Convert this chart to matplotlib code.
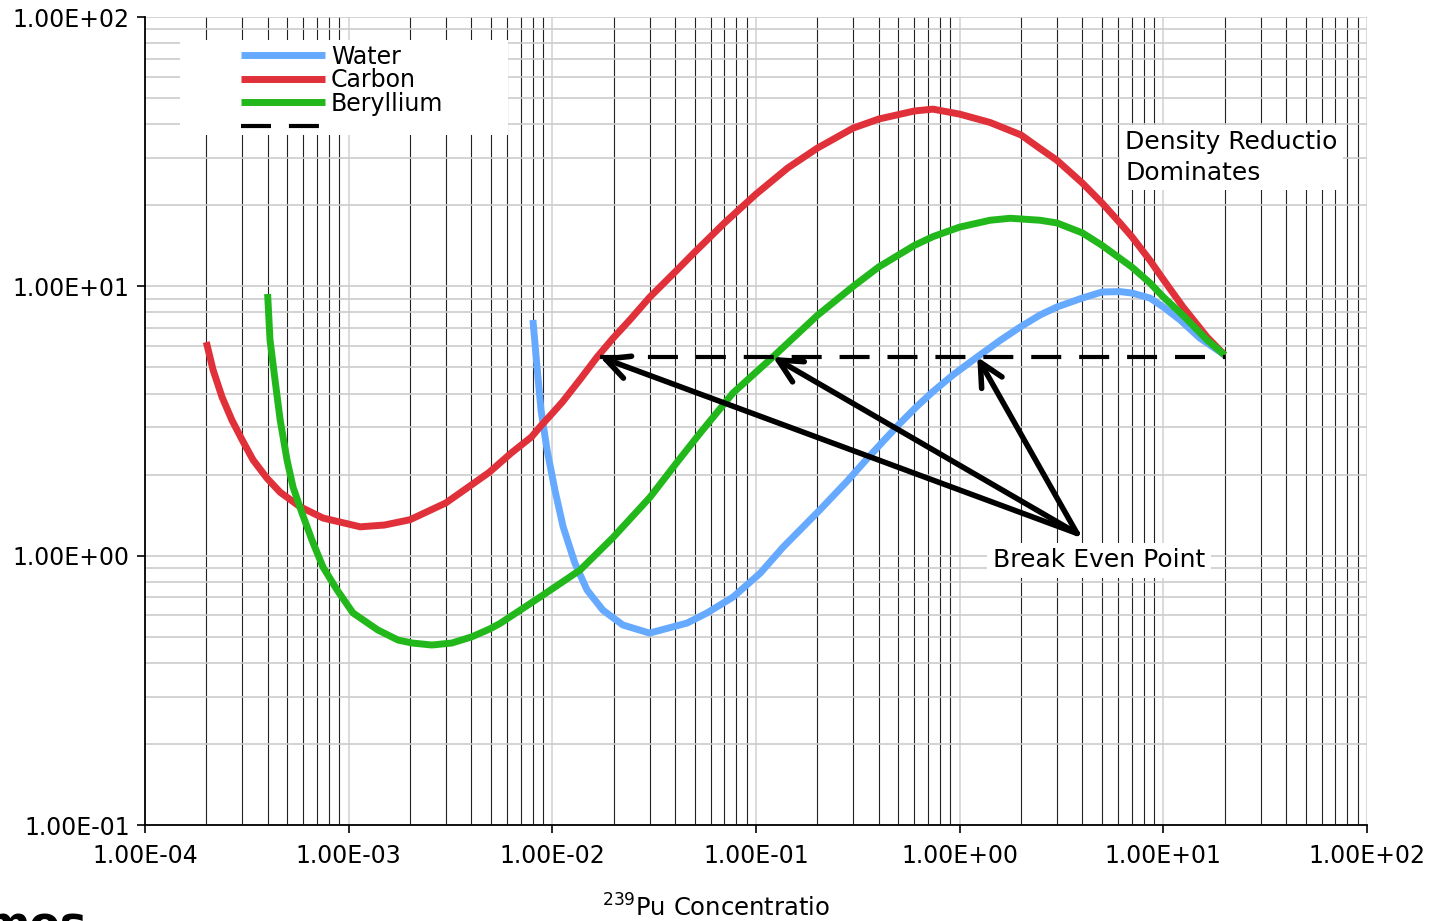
import numpy as np
import matplotlib
matplotlib.use("Agg")
import matplotlib.pyplot as plt
from matplotlib.ticker import FuncFormatter, LogLocator, NullFormatter
from matplotlib.patches import Rectangle

# ==============================
# Datos
# ==============================

# Water
agua_x = [8.03e-3, 8.41e-3, 8.8e-3, 9.42e-3, 1.03e-2, 1.13e-2, 1.29e-2, 1.48e-2, 1.77e-2,
          2.22e-2, 3.0e-2, 4.58e-2, 5.75e-2, 7.71e-2, 0.105, 0.136, 0.206, 0.28, 0.351,
          0.421, 0.509, 0.618, 0.74, 0.927, 1.22, 1.58, 1.98, 2.48, 3.0, 4.0, 5.0,
          6.12, 7.0, 8.59, 10.0, 12.1, 15.1, 20.0]
agua_y = [7.50, 5.02, 3.47, 2.47, 1.75, 1.28, 0.939, 0.746, 0.628,
          0.553, 0.516, 0.562, 0.613, 0.702, 0.862, 1.077, 1.48, 1.89, 2.29,
          2.66, 3.10, 3.59, 4.07, 4.69, 5.47, 6.3, 7.06, 7.83, 8.38, 9.05, 9.53,
          9.56, 9.45, 9.05, 8.38, 7.5, 6.43, 5.56]

# Carbon
carbono_x = [2.0e-4, 2.16e-4, 2.39e-4, 2.67e-4, 3.0e-4, 3.39e-4, 3.97e-4, 4.61e-4, 5.77e-4,
             7.48e-4, 1.14e-3, 1.5e-3, 2.0e-3, 3.0e-3, 4.0e-3, 4.9e-3, 6.3e-3, 7.9e-3,
             8.7e-3, 1.0e-2, 1.12e-2, 1.38e-2, 1.66e-2, 1.99e-2, 2.4e-2, 3.0e-2, 4.0e-2,
             5.0e-2, 7.0e-2, 0.1, 0.143, 0.2, 0.3, 0.4, 0.6, 0.74, 1.0, 1.41, 2.0,
             2.48, 3.0, 4.0, 5.0, 6.12, 7.0, 8.59, 10.0, 12.5, 16.4, 20.0]
carbono_y = [6.21, 4.89, 3.88, 3.19, 2.69, 2.27, 1.94, 1.72, 1.52,
             1.38, 1.28, 1.30, 1.36, 1.57, 1.83, 2.04, 2.41, 2.76,
             3.01, 3.38, 3.72, 4.55, 5.47, 6.43, 7.5, 9.1, 11.3,
             13.4, 17.2, 22.0, 27.5, 32.6, 38.7, 41.8, 44.8, 45.5, 43.6, 40.6, 36.5,
             32.5, 29.4, 24.2, 20.4, 17.2, 15.3, 12.5, 10.6, 8.38, 6.48, 5.56]

# Beryllium
berilio_x = [4.0e-4, 4.11e-4, 4.35e-4, 4.61e-4, 4.98e-4, 5.33e-4, 5.9e-4, 6.61e-4, 7.48e-4,
             8.77e-4, 1.05e-3, 1.39e-3, 1.75e-3, 2.05e-3, 2.56e-3, 3.21e-3, 4.03e-3,
             4.94e-3, 5.53e-3, 8.7e-3, 1.37e-2, 1.99e-2, 3.02e-2, 4.09e-2, 5.31e-2,
             7.71e-2, 0.121, 0.2, 0.3, 0.4, 0.6, 0.74, 1.0, 1.41, 1.77, 2.48, 3.0,
             4.0, 5.0, 7.0, 8.59, 10.0, 12.5, 16.4, 20.0]
berilio_y = [9.37, 6.32, 4.49, 3.19, 2.27, 1.80, 1.44, 1.14, 0.908,
             0.746, 0.613, 0.53, 0.486, 0.474, 0.466, 0.474, 0.50,
             0.535, 0.56, 0.702, 0.885, 1.17, 1.65, 2.22, 2.85,
             4.02, 5.47, 7.8, 10.0, 11.8, 14.2, 15.3, 16.6, 17.6, 17.9, 17.6, 17.2,
             15.8, 14.2, 11.8, 10.3, 9.13, 7.8, 6.32, 5.56]

# Linea de equilibrio (sin nombre en la leyenda)
equilibrio_x = [1.71e-2, 20.0]
equilibrio_y = [5.47, 5.47]

# Flechas "Break Even Point"
flecha_origen = (3.77, 1.21)
flecha_destinos_x = [1.71e-2, 0.121, 1.22]
flecha_destinos_y = [5.47, 5.47, 5.47]

# ==============================
# Grafica
# ==============================

plt.rcParams["font.family"] = ["DejaVu Sans"]

fig = plt.figure(figsize=(14.37, 9.21), dpi=100)
ax = fig.add_axes([0.1009, 0.1042, 0.8504, 0.8773])

ax.set_xscale("log")
ax.set_yscale("log")
ax.set_xlim(1e-4, 1e2)
ax.set_ylim(1e-1, 1e2)
ax.set_axisbelow(True)

estilo = dict(lw=5, zorder=3, solid_joinstyle="round", solid_capstyle="butt")
ax.plot(agua_x, agua_y, color="#66aaff", label="Water", **estilo)
ax.plot(carbono_x, carbono_y, color="#e0303a", label="Carbon", **estilo)
ax.plot(berilio_x, berilio_y, color="#22b81c", label="Beryllium", **estilo)
ax.plot(equilibrio_x, equilibrio_y, color="black", lw=3, dashes=(7.2, 4.3),
        label=" ", zorder=3)

# Rejilla
ax.xaxis.set_major_locator(LogLocator(base=10, numticks=10))
ax.xaxis.set_minor_locator(LogLocator(base=10, subs=np.arange(2, 10), numticks=20))
ax.yaxis.set_major_locator(LogLocator(base=10, numticks=10))
ax.yaxis.set_minor_locator(LogLocator(base=10, subs=np.arange(2, 10), numticks=20))
ax.xaxis.set_minor_formatter(NullFormatter())
ax.yaxis.set_minor_formatter(NullFormatter())

ax.grid(True, which="major", axis="x", color="#d4d4d4", lw=1.2)
ax.grid(True, which="minor", axis="x", color="#222222", lw=0.8)
ax.grid(True, which="both", axis="y", color="#cccccc", lw=1.2)

fmt = FuncFormatter(lambda v, p: f"{v:.2E}")
ax.xaxis.set_major_formatter(fmt)
ax.yaxis.set_major_formatter(fmt)

ax.tick_params(which="major", direction="out", length=6, width=1.2, labelsize=17,
               colors="black")
ax.tick_params(axis="x", which="major", pad=8)
ax.tick_params(axis="y", which="major", pad=5)
ax.tick_params(which="minor", length=0)

ax.spines["top"].set_visible(False)
ax.spines["right"].set_visible(False)
ax.spines["left"].set_linewidth(1.3)
ax.spines["bottom"].set_linewidth(1.3)

# Fondo blanco de la leyenda
ax.add_patch(Rectangle((0.0286, 0.854), 0.2685, 0.1175, transform=ax.transAxes,
                       facecolor="white", edgecolor="none", zorder=1))
leg = ax.legend(loc="upper left", bbox_to_anchor=(0.0785, 0.9657), frameon=False,
                fontsize=17, handlelength=3.56, handletextpad=0.25, labelspacing=-0.025,
                borderpad=0, borderaxespad=0)

# Flechas
for dx, dy in zip(flecha_destinos_x, flecha_destinos_y):
    ax.annotate("", xy=(dx, dy), xytext=flecha_origen,
                arrowprops=dict(arrowstyle="->, head_length=0.6, head_width=0.3",
                                mutation_scale=28, lw=4, color="black",
                                shrinkA=0, shrinkB=0),
                zorder=4)

ax.text(0.7807, 0.328, "Break Even Point", transform=ax.transAxes, fontsize=18,
        ha="center", va="center", zorder=4,
        bbox=dict(facecolor="white", edgecolor="none", pad=4))

ax.text(0.802, 0.8597, "Density Reductio\nDominates", transform=ax.transAxes,
        fontsize=18, ha="left", va="top", linespacing=1.33, zorder=4,
        bbox=dict(facecolor="white", edgecolor="none", pad=4))

# Titulo del eje x (recortado como en el original)
fig.text(716 / 1437, 1 - 908 / 921, r"$^{239}$Pu Concentratio", fontsize=17.5,
         ha="center", va="center")

# Logotipo parcialmente visible
fig.text(-0.012, -0.0195, "mos", fontsize=32, fontweight="bold", ha="left",
         va="baseline", color="black")

fig.savefig("out.png", dpi=100)
